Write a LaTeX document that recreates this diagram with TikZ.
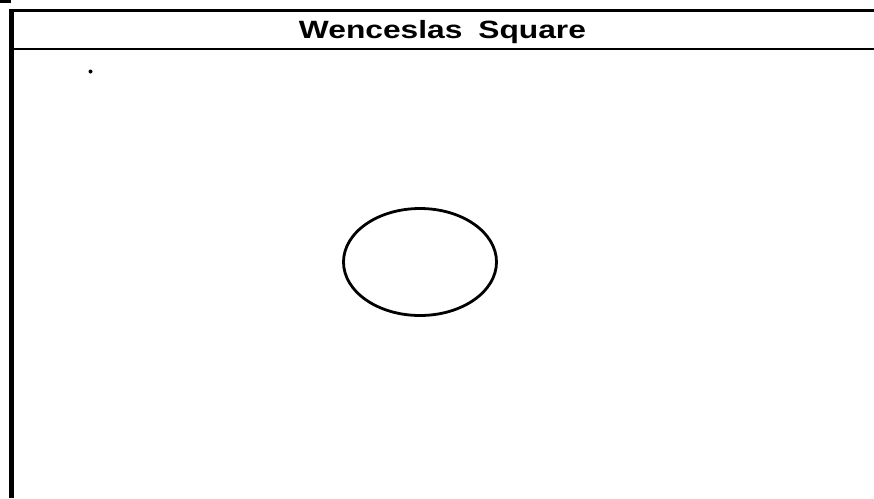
\documentclass[tikz,border=0pt]{standalone}
\usepackage{fontspec}
\setmainfont{Liberation Sans}
\usetikzlibrary{shapes.geometric}
\begin{document}
\begin{tikzpicture}[x=1pt,y=-1pt,
  rule/.style={line width=3pt, black},
  titletext/.style={anchor=base, xscale=1.27, inner sep=0pt, font=\fontsize{25}{25}\selectfont\bfseries},
  oval/.style={draw, ellipse, line width=2.8pt, inner sep=0pt, minimum width=153pt, minimum height=107pt}]
\useasboundingbox (0,0) rectangle (874,498);
\fill[white] (0,0) rectangle (874,498);
% frame
\draw[rule] (9.5,10.5) -- (874,10.5);
\draw[line width=4.5pt] (11.5,9) -- (11.5,498);
\draw[line width=2.6pt] (11.5,49) -- (874,49);
% corner mark and speck
\fill (0,0) rectangle (11,3);
\fill (90.5,71.5) circle (2pt);
% title
\node[titletext] (title) at (442.5,38) {Wenceslas\hspace{0.5em}Square};
% ellipse
\node[oval] (oval) at (420,262) {};
\end{tikzpicture}
\end{document}
